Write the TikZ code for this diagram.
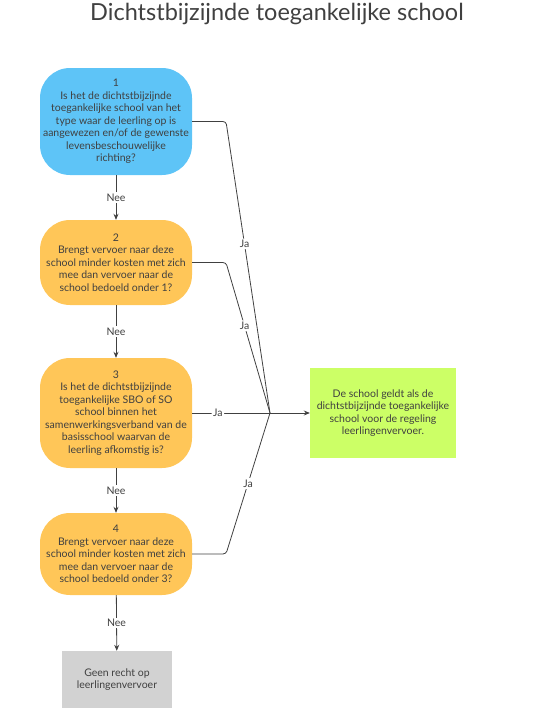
\documentclass[tikz,border=0pt]{standalone}
\usepackage{fontspec}
\setmainfont{Lato}
\usetikzlibrary{arrows.meta}

\definecolor{qblue}{RGB}{94,196,247}
\definecolor{qorange}{RGB}{255,198,88}
\definecolor{qgreen}{RGB}{204,255,102}
\definecolor{qgray}{RGB}{210,210,210}
\definecolor{ink}{RGB}{64,64,64}

\begin{document}
\begin{tikzpicture}[x=1pt, y=-1pt, font=\fontsize{10.5}{12.5}\selectfont, text=ink,
    question/.style={rectangle, rounded corners=30pt, minimum width=152pt, align=center, inner sep=2pt},
    result/.style={rectangle, align=center, inner sep=2pt},
    lbl/.style={fill=white, inner sep=1.5pt, font=\fontsize{10.5}{12}\selectfont},
    flow/.style={draw=ink, line width=0.8pt, -{Stealth[length=6pt, width=5pt]}},
    jaline/.style={draw=ink, line width=0.8pt, rounded corners=3pt}]

        \useasboundingbox (0,0) rectangle (554,725);

        \node[font=\fontsize{23.5}{26}\selectfont] at (277, 14) (title){Dichtstbijzijnde toegankelijke school};

        \node[question, fill=qblue, minimum height=107pt] at (116, 121.5) (q1){1\\Is het de dichtstbijzijnde\\toegankelijke school van het\\type waar de leerling op is\\aangewezen en/of de gewenste\\levensbeschouwelijke\\richting?};
        \node[question, fill=qorange, minimum height=85pt] at (116, 262.5) (q2){2\\Brengt vervoer naar deze\\school minder kosten met zich\\mee dan vervoer naar de\\school bedoeld onder 1?};
        \node[question, fill=qorange, minimum height=110pt] at (116, 413) (q3){3\\Is het de dichtstbijzijnde\\toegankelijke SBO of SO\\school binnen het\\samenwerkingsverband van de\\basisschool waarvan de\\leerling afkomstig is?};
        \node[question, fill=qorange, minimum height=82pt] at (116, 554) (q4){4\\Brengt vervoer naar deze\\school minder kosten met zich\\mee dan vervoer naar de\\school bedoeld onder 3?};

        \node[result, fill=qgray, minimum width=110pt, minimum height=57pt] at (117, 679.5) (none){Geen recht op\\leerlingenvervoer};
        \node[result, fill=qgreen, minimum width=146pt, minimum height=90pt] at (383, 413) (yes){De school geldt als de\\dichtstbijzijnde toegankelijke\\school voor de regeling\\leerlingenvervoer.};

        \coordinate (hub) at (270, 413);
        \coordinate (b1) at (226, 121.5);
        \coordinate (b2) at (226, 262.5);
        \coordinate (b4) at (226, 554);

        % nee
        \draw[flow] (q1) -- node[lbl]{Nee} (q2);
        \draw[flow] (q2) -- node[lbl]{Nee} (q3);
        \draw[flow] (q3) -- node[lbl]{Nee} (q4);
        \draw[flow] (q4) -- node[lbl]{Nee} (none);

        % ja
        \draw[jaline] (q1.east) -- (b1) -- node[lbl, pos=0.42]{Ja} (hub);
        \draw[jaline] (q2.east) -- (b2) -- node[lbl, pos=0.42]{Ja} (hub);
        \draw[jaline] (q3.east) -- node[lbl, pos=0.33]{Ja} (hub);
        \draw[jaline] (q4.east) -- (b4) -- node[lbl, pos=0.5]{Ja} (hub);
        \draw[flow] (hub) -- (yes.west);
\end{tikzpicture}
\end{document}
